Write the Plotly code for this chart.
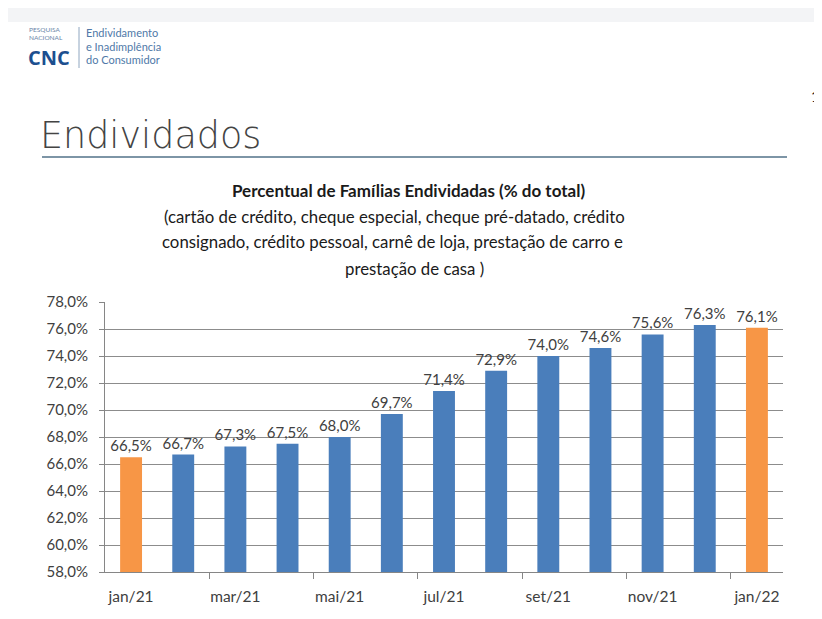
import plotly.graph_objects as go

# ---- data ----
months = ["jan/21", "fev/21", "mar/21", "abr/21", "mai/21", "jun/21", "jul/21",
          "ago/21", "set/21", "out/21", "nov/21", "dez/21", "jan/22"]
values = [66.5, 66.7, 67.3, 67.5, 68.0, 69.7, 71.4, 72.9, 74.0, 74.6, 75.6, 76.3, 76.1]
highlight = [True, False, False, False, False, False, False, False, False, False, False, False, True]
y_ticks = [58, 60, 62, 64, 66, 68, 70, 72, 74, 76, 78]
y_ticktext = [("%.1f%%" % v).replace(".", ",") for v in y_ticks]

BLUE = "#4A7EBB"
ORANGE = "#F79646"
TXT = "#404040"
FONT = "Lato"

# the page shows the figure with an 8px offset; reference coordinates below
OFF = 8
W, H = 822 - OFF, 619 - OFF
PL, PR, PT, PB = 105, 783, 302, 572          # plot area in reference pixels
L, R, T, B = PL - OFF, 822 - PR, PT - OFF, 619 - PB
PW, PH = PR - PL, PB - PT


def px(x):
    return (x - PL) / PW


def py(y):
    return (PB - y) / PH


xs = list(range(len(months)))
colors = [ORANGE if h else BLUE for h in highlight]

fig = go.Figure(go.Bar(
    x=xs, y=values, marker=dict(color=colors, line=dict(width=0)),
    width=0.42,
    texttemplate="%{y:.1f}%", textposition="outside", constraintext="none",
    textfont=dict(family=FONT, size=15, color=TXT),
    cliponaxis=False,
))

fig.update_layout(
    width=W, height=H,
    margin=dict(l=L, r=R, t=T, b=B),
    paper_bgcolor="white", plot_bgcolor="white",
    separators=",.",
    showlegend=False,
    font=dict(family=FONT, color=TXT),
    xaxis=dict(
        range=[-0.5, len(months) - 0.5],
        tickvals=xs[::2], ticktext=months[::2],
        ticks="", ticklabelstandoff=10,
        tickfont=dict(family=FONT, size=15.5, color=TXT),
        showline=True, linecolor="#868686", linewidth=1,
        showgrid=False, zeroline=False,
        minor=dict(tickvals=[i + 0.5 for i in xs[1:-1:2]], ticks="outside",
                   ticklen=6, tickcolor="#868686", showgrid=False),
    ),
    yaxis=dict(
        range=[58, 78], tickvals=y_ticks, ticktext=y_ticktext,
        ticks="outside", ticklen=5, tickcolor="#868686",
        ticklabelstandoff=8,
        tickfont=dict(family=FONT, size=15, color=TXT),
        showline=True, linecolor="#868686", linewidth=1,
        showgrid=True, gridcolor="#8c8c8c", gridwidth=1,
        zeroline=False,
    ),
)

shapes = [
    # faint band at the top
    dict(type="rect", xref="paper", yref="paper", x0=px(OFF), x1=px(822), y0=py(OFF), y1=py(22),
         fillcolor="#f3f4f6", line=dict(width=0), layer="below"),
    # line under the slide title
    dict(type="line", xref="paper", yref="paper", x0=px(42), x1=px(787), y0=py(157), y1=py(157),
         line=dict(color="#7d95a6", width=2)),
    # logo separator
    dict(type="line", xref="paper", yref="paper", x0=px(79), x1=px(79), y0=py(27), y1=py(68),
         line=dict(color="#8fa6c0", width=1)),
]

ann = []


def note(text, x, y, size, color=TXT, xanchor="left", bold=False, family=FONT, weight=None):
    f = dict(family=family, size=size, color=color)
    if weight is not None:
        f["weight"] = weight
    ann.append(dict(text=("<b>%s</b>" % text) if bold else text, xref="paper", yref="paper",
                    x=px(x), y=py(y), xanchor=xanchor, yanchor="middle", showarrow=False,
                    font=f))


# logo
note("PESQUISA", 27, 29, 6.5, "#6a84a8")
note("NACIONAL", 27, 37, 6.5, "#6a84a8")
note("CNC", 26, 57, 20, "#1d4f8f", bold=True, family="Open Sans")
note("Endividamento", 84, 32, 11, "#4f79a8")
note("e Inadimplência", 84, 46, 11, "#4f79a8")
note("do Consumidor", 84, 60, 11, "#4f79a8")

# slide title
note("Endividados", 38, 136, 36.5, "#444444", family="DejaVu Sans", weight=200)
note("1", 809, 96, 15, "#222222")

# chart title
note("Percentual de Famílias Endividadas (% do total)", 408, 190, 17, "#1a1a1a", "center", bold=True)
note("(cartão de crédito, cheque especial, cheque pré-datado, crédito", 394, 216, 16.8, "#1a1a1a", "center")
note("consignado, crédito pessoal, carnê de loja, prestação de carro e", 392, 242, 16.8, "#1a1a1a", "center")
note("prestação de casa )", 414, 268, 16.8, "#1a1a1a", "center")

fig.update_layout(shapes=shapes, annotations=ann)
fig.write_html("out.html")
